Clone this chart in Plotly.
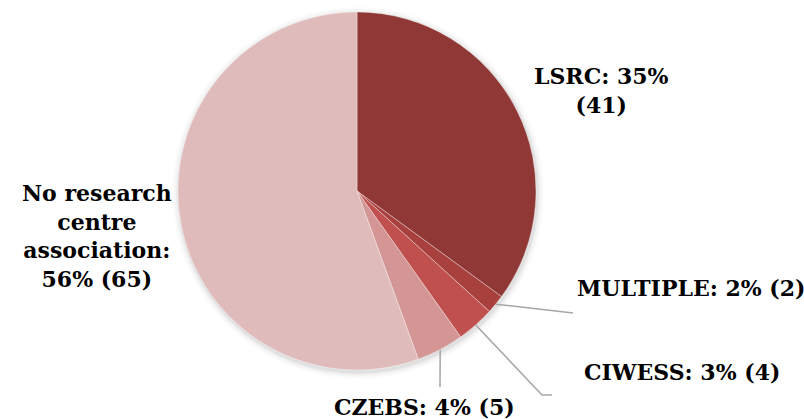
import numpy as np
import plotly.graph_objects as go

# ---- data ----
categories = ["LSRC", "MULTIPLE", "CIWESS", "CZEBS", "No research centre association"]
counts = [41, 2, 4, 5, 65]
colors = ["#8f3836", "#a8403e", "#c0504d", "#d49595", "#e0bbbb"]
label_lines = ["LSRC: {p}%<br>({n})", "MULTIPLE: {p}% ({n})", "CIWESS: {p}% ({n})",
               "CZEBS: {p}% ({n})", "No research<br>centre<br>association:<br>{p}% ({n})"]

# ---- layout constants (pixels) ----
W, H = 804, 419
CX, CY, R = 357, 191, 179
label_pos = [(601, 90), (691, 288), (682, 372), (424, 407), (97, 236)]
leader_ends = {1: [(573, 313)], 2: [(542, 395), (552, 395)], 3: [(440, 387)]}
FONT = dict(family="DejaVu Serif", size=22, color="#000000")

total = sum(counts)
fig = go.Figure()

fig.add_trace(go.Pie(
    labels=categories, values=counts, sort=False, direction="clockwise", rotation=0,
    marker=dict(colors=colors, line=dict(color="rgba(255,255,255,0.6)", width=0.6)),
    textinfo="none", hoverinfo="label+value+percent", showlegend=False,
    domain=dict(x=[(CX - R) / W, (CX + R) / W], y=[1 - (CY + R) / H, 1 - (CY - R) / H]),
))

# leader lines from slice mid-angles
cum = np.cumsum([0] + counts)
for i, ends in leader_ends.items():
    mid = (cum[i] + cum[i + 1]) / 2 / total * 2 * np.pi
    sx, sy = CX + R * np.sin(mid), CY - R * np.cos(mid)
    xs = [sx] + [e[0] for e in ends]
    ys = [sy] + [e[1] for e in ends]
    fig.add_trace(go.Scatter(x=xs, y=ys, mode="lines", line=dict(color="#a6a6a6", width=1.5),
                             hoverinfo="skip", showlegend=False))

# labels
for i, (cat, n) in enumerate(zip(categories, counts)):
    p = round(100 * n / total)
    fig.add_annotation(x=label_pos[i][0], y=label_pos[i][1], xref="x", yref="y",
                       text="<b>" + label_lines[i].format(p=p, n=n) + "</b>",
                       showarrow=False, font=FONT, xanchor="center", yanchor="middle",
                       align="center")

# soft shadow
for k, a in [(7, 0.015), (5, 0.025), (3, 0.035), (1.5, 0.05)]:
    fig.add_shape(type="circle", xref="x", yref="y", x0=CX - R - k + 1, x1=CX + R + k + 1,
                  y0=CY - R - k + 2, y1=CY + R + k + 2, line_width=0,
                  fillcolor=f"rgba(0,0,0,{a})", layer="below")

fig.update_layout(
    width=W, height=H, margin=dict(l=0, r=0, t=0, b=0),
    paper_bgcolor="white", plot_bgcolor="rgba(0,0,0,0)",
    xaxis=dict(range=[0, W], visible=False, fixedrange=True),
    yaxis=dict(range=[H, 0], visible=False, fixedrange=True),
)

fig.write_html("out.html", config={"displayModeBar": False},
               post_script="document.body.style.margin='0';document.body.style.overflow='hidden';")
